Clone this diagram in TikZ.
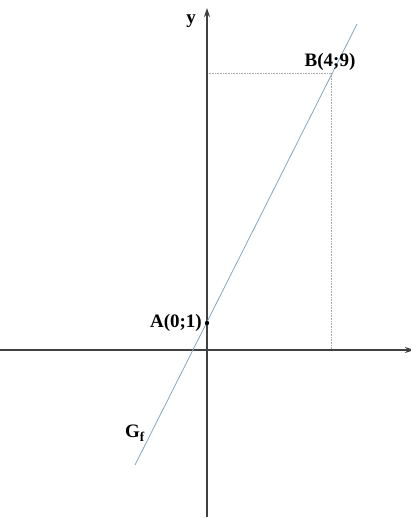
\documentclass[tikz,border=0pt]{standalone}
\usepackage{fontspec}
\setmainfont{Liberation Serif}
\usetikzlibrary{arrows.meta,positioning}
\definecolor{gline}{RGB}{125,168,200}

\begin{document}
\begin{tikzpicture}[
  x=1pt, y=-1pt,
  axis/.style={-{Stealth[length=9pt,width=6pt]}, line width=1.3pt, draw=black!75},
  graph/.style={line width=0.8pt, draw=gline},
  guide/.style={densely dotted, line width=0.6pt, draw=black!35},
  lbl/.style={font=\fontsize{19}{21}\selectfont\bfseries, inner sep=1pt}
]
\useasboundingbox (0,0) rectangle (410,519);

% Points
\coordinate (O)   at (207,350);
\coordinate (A)   at (207,323);
\coordinate (B)   at (331,73);
\coordinate (By)  at (207,73);
\coordinate (Bx)  at (331,350);
\coordinate (yb)  at (207,517);
\coordinate (yt)  at (207,8);
\coordinate (xl)  at (0,350);
\coordinate (xr)  at (414,350);
\coordinate (g1)  at (135,465);
\coordinate (g2)  at (357,24);

% Helper lines
\draw[guide] (By) -- (B);
\draw[guide] (B) -- (Bx);

% Axes
\draw[axis] (xl) -- (xr);
\draw[axis] (yb) -- (yt);

% Graph
\draw[graph] (g1) -- (g2);
\fill (A) circle (2.2pt);

% Labels
\node[lbl, left=4pt of A]          (la) {A(0;1)};
\node[lbl] at (330,62)              (lb) {B(4;9)};
\node[lbl] at (191,21)              (ly) {y};
\node[lbl] at (135,433)             (lg) {G$_{\mathbf{f}}$};
\end{tikzpicture}
\end{document}
